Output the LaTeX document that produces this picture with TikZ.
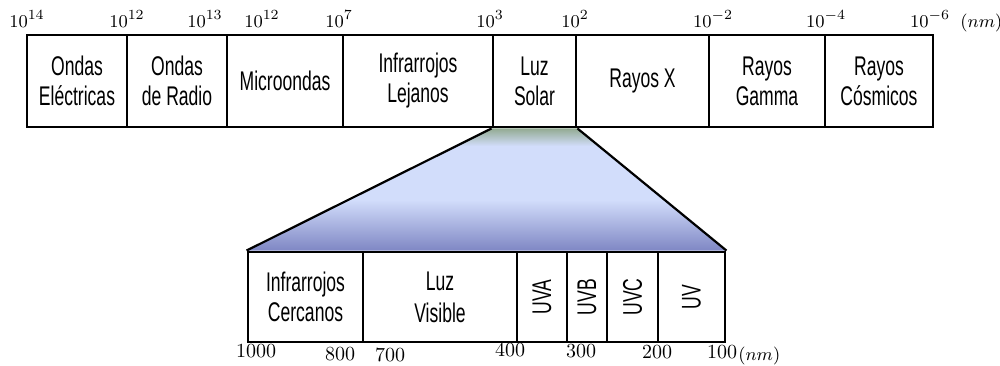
\documentclass[tikz,border=0pt]{standalone}
\usepackage{fontspec}
\newfontfamily\bandfont[FakeStretch=0.65]{Liberation Sans}
\usetikzlibrary{backgrounds}
\definecolor{zbot}{HTML}{7F87C4}
\definecolor{zmid}{HTML}{D2DDFB}
\definecolor{ztop}{HTML}{93AB93}
% fill of the zoomed part: dark blue at the bottom, light blue, green-grey at the top
\pgfdeclareverticalshading{zoomfill}{100bp}{
  color(0bp)=(zbot); color(25bp)=(zbot); color(45.8bp)=(zmid);
  color(67.8bp)=(zmid); color(75bp)=(ztop); color(100bp)=(ztop)}
\begin{document}
\begin{tikzpicture}[
      x=0.5pt,y=-0.5pt,
      band/.style={rectangle,draw,line width=1.45pt,inner sep=0pt,align=center,
                   font=\bandfont\fontsize{13.5}{15}\selectfont},
      topband/.style={band,minimum height=46pt},
      lowband/.style={band,minimum height=45pt},
      tick/.style={inner sep=0pt,anchor=base,font=\fontsize{9.5}{10}\selectfont},
      lowtick/.style={inner sep=0pt,anchor=base,font=\fontsize{10}{11}\selectfont}
    ]
    \useasboundingbox (0,0) rectangle (1000,365);

    % Full spectrum
    \node[topband,minimum width=50pt] (elec) at (77,81) {Ondas\\Eléctricas};
    \node[topband,minimum width=50pt] (radio) at (177,81) {Ondas\\de Radio};
    \node[topband,minimum width=58pt] (micro) at (285,81) {Microondas};
    \node[topband,minimum width=75pt] (irfar) at (418,81) {Infrarrojos\\Lejanos};
    \node[topband,minimum width=41.5pt] (solar) at (534.5,81) {Luz\\Solar};
    \node[topband,minimum width=66.5pt] (xray) at (642.5,81) {Rayos X};
    \node[topband,minimum width=58pt] (gamma) at (767,81) {Rayos\\Gamma};
    \node[topband,minimum width=54pt] (cosmic) at (879,81) {Rayos\\Cósmicos};

    % Solar light, zoomed in
    \node[lowband,minimum width=57.5pt] (irnear) at (305.5,297) {Infrarrojos\\Cercanos};
    \node[lowband,minimum width=77pt] (visible) at (440,297) {Luz\\[1pt]Visible};
    \node[lowband,minimum width=25pt] (uva) at (542,297) {\rotatebox{90}{UVA}};
    \node[lowband,minimum width=20pt] (uvb) at (587,297) {\rotatebox{90}{UVB}};
    \node[lowband,minimum width=25.5pt] (uvc) at (632.5,297) {\rotatebox{90}{UVC}};
    \node[lowband,minimum width=33.5pt] (uv) at (691.5,297) {\rotatebox{90}{UV}};

    % Zoom funnel
    \begin{scope}[on background layer]
      \shade[shading=zoomfill] (solar.south west) -- (solar.south east)
        -- (uv.north east) -- (irnear.north west) -- cycle;
    \end{scope}
    \draw[line width=1.1pt] (solar.south west) -- (irnear.north west);
    \draw[line width=1.1pt] (solar.south east) -- (uv.north east);

    % Wavelengths, top
    \node[tick] (t14) at (27,27) {$10^{14}$};
    \node[tick] (t12a) at (127,27) {$10^{12}$};
    \node[tick] (t13) at (205,27) {$10^{13}$};
    \node[tick] (t12b) at (262,27) {$10^{12}$};
    \node[tick] (t7) at (339,27) {$10^{7}$};
    \node[tick] (t3) at (490,27) {$10^{3}$};
    \node[tick] (t2) at (575,27) {$10^{2}$};
    \node[tick] (tm2) at (713,27) {$10^{-2}$};
    \node[tick] (tm4) at (826,27) {$10^{-4}$};
    \node[tick] (tm6) at (930,27) {$10^{-6}$};
    \node[tick,anchor=base west] (tnm) at (960,27) {$(nm)$};

    % Wavelengths, bottom
    \node[lowtick] (b1000) at (256,357) {$1000$};
    \node[lowtick] (b800) at (340,360) {$800$};
    \node[lowtick] (b700) at (390,361) {$700$};
    \node[lowtick] (b400) at (510,356) {$400$};
    \node[lowtick] (b300) at (581,357) {$300$};
    \node[lowtick] (b200) at (657,358) {$200$};
    \node[lowtick] (b100) at (722,358) {$100$};
    \node[tick,anchor=base west] (bnm) at (738,360) {$(nm)$};

  \end{tikzpicture}
\end{document}
